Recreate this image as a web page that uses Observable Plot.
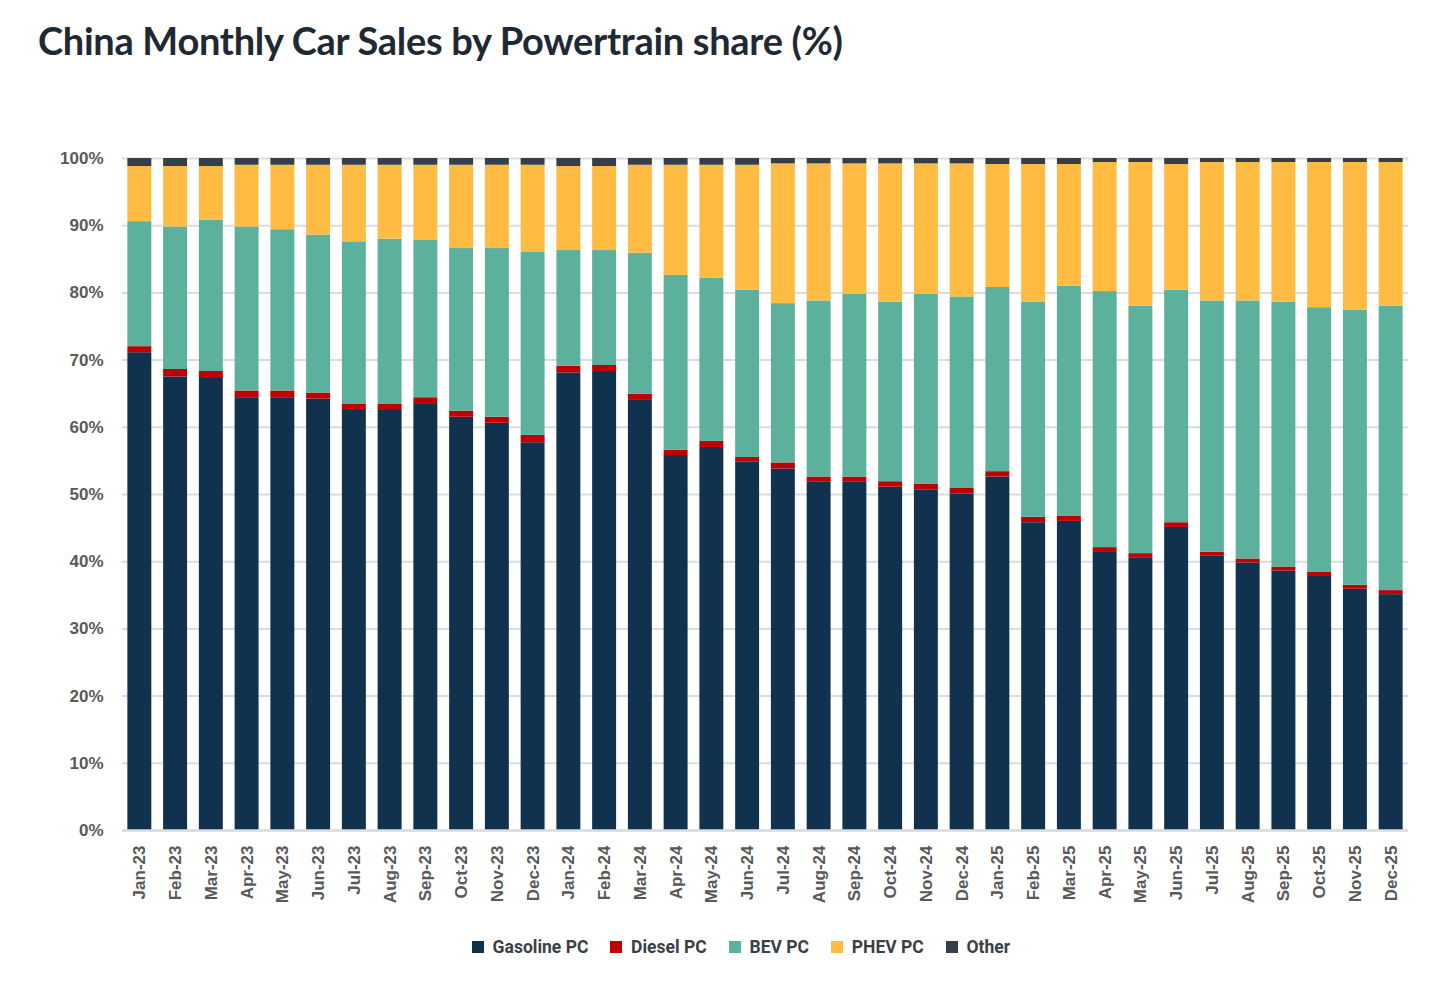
<!DOCTYPE html>
<html>
<head>
<meta charset="utf-8">
<script src="https://cdn.jsdelivr.net/npm/d3@7"></script>
<script src="https://cdn.jsdelivr.net/npm/@observablehq/plot@0.6"></script>
<style>
  html, body { margin: 0; padding: 0; background: #fff; }
  #wrap { position: relative; width: 1456px; height: 997px; overflow: hidden; }
  #title { position: absolute; left: 38px; top: 17px; font-family: Lato, sans-serif; font-weight: 700; font-size: 38px; color: #1f2933; letter-spacing: -0.3px; white-space: nowrap; }
  #chart { position: absolute; left: 0; top: 100px; }
  #chart svg { display: block; }
  #legend { position: absolute; left: 24px; top: 930px; width: 1456px; display: flex; justify-content: center; }
  #legend div { font-family: Roboto, "Liberation Sans", sans-serif; font-weight: 700; font-size: 17.5px; color: #3a3f45; }
  #legend div > span { margin-right: 22px !important; }
</style>
</head>
<body>
<div id="wrap">
  <div id="title">China Monthly Car Sales by Powertrain share (%)</div>
  <div id="chart"></div>
  <div id="legend"></div>
</div>
<script>
const months = ["Jan-23","Feb-23","Mar-23","Apr-23","May-23","Jun-23","Jul-23","Aug-23","Sep-23","Oct-23","Nov-23","Dec-23",
  "Jan-24","Feb-24","Mar-24","Apr-24","May-24","Jun-24","Jul-24","Aug-24","Sep-24","Oct-24","Nov-24","Dec-24",
  "Jan-25","Feb-25","Mar-25","Apr-25","May-25","Jun-25","Jul-25","Aug-25","Sep-25","Oct-25","Nov-25","Dec-25"];
const series = ["Gasoline PC","Diesel PC","BEV PC","PHEV PC","Other"];
const colors = ["#11324f","#c00000","#5bb19b","#ffbb42","#353f49"];
const gasoline = [71.1,67.5,67.4,64.4,64.4,64.2,62.5,62.5,63.4,61.5,60.6,57.7,
  68.1,68.3,64.0,55.8,57.0,54.8,53.8,51.9,51.9,51.1,50.7,50.1,
  52.6,45.8,46.0,41.5,40.5,45.1,40.8,39.8,38.6,37.8,35.9,35.1];
const diesel = [0.9,1.1,0.9,1.0,1.0,0.9,0.9,0.9,1.0,0.9,0.9,1.1,
  1.0,0.9,0.9,0.8,0.9,0.7,0.9,0.7,0.7,0.8,0.8,0.8,
  0.8,0.8,0.8,0.6,0.7,0.7,0.6,0.6,0.6,0.6,0.6,0.6];
const bev = [18.6,21.2,22.5,24.4,24.0,23.5,24.2,24.6,23.4,24.2,25.1,27.3,
  17.2,17.1,21.0,26.0,24.3,24.9,23.7,26.2,27.2,26.7,28.3,28.5,
  27.4,32.0,34.2,38.1,36.8,34.6,37.4,38.4,39.4,39.4,40.9,42.3];
const phev = [8.2,9.0,8.0,9.2,9.6,10.4,11.4,11.0,11.2,12.4,12.4,12.9,
  12.5,12.5,13.1,16.4,16.8,18.6,20.8,20.4,19.4,20.6,19.4,19.8,
  18.3,20.5,18.1,19.2,21.4,18.7,20.6,20.6,20.8,21.6,22.0,21.4];
const other = [1.2,1.2,1.2,1.0,1.0,1.0,1.0,1.0,1.0,1.0,1.0,1.0,
  1.2,1.2,1.0,1.0,1.0,1.0,0.8,0.8,0.8,0.8,0.8,0.8,
  0.9,0.9,0.9,0.6,0.6,0.9,0.6,0.6,0.6,0.6,0.6,0.6];
const yTicks = [0,10,20,30,40,50,60,70,80,90,100];

const valuesBySeries = [gasoline, diesel, bev, phev, other];
const data = [];
series.forEach((s, si) => {
  months.forEach((m, mi) => data.push({month: m, type: s, value: valuesBySeries[si][mi]}));
});

const plot = Plot.plot({
  width: 1456,
  height: 820,
  marginTop: 58,
  marginBottom: 90,
  marginLeft: 122,
  marginRight: 48,
  style: {fontFamily: "'Liberation Sans', Arial, sans-serif", fontWeight: "700", fontSize: "17px", color: "#595959", background: "#fff"},
  x: {domain: months, paddingInner: 0.33, paddingOuter: 0.15, round: false, label: null},
  y: {domain: [0, 100], label: null},
  color: {domain: series, range: colors},
  marks: [
    Plot.gridY(yTicks, {stroke: "#d9dce1", strokeOpacity: 1, strokeWidth: 2}),
    Plot.barY(data, {x: "month", y: "value", fill: "type", order: series}),
    Plot.ruleY([0], {stroke: "#d9dce1", strokeWidth: 2.5}),
    Plot.axisY(yTicks, {tickSize: 0, tickPadding: 19, tickFormat: d => d + "%", fill: "#595959"}),
    Plot.axisX({tickSize: 0, tickPadding: 15, tickRotate: -90, fill: "#595959"})
  ]
});
document.getElementById("chart").appendChild(plot);

const leg = plot.legend("color", {swatchSize: 12});
document.getElementById("legend").appendChild(leg);
</script>
</body>
</html>
